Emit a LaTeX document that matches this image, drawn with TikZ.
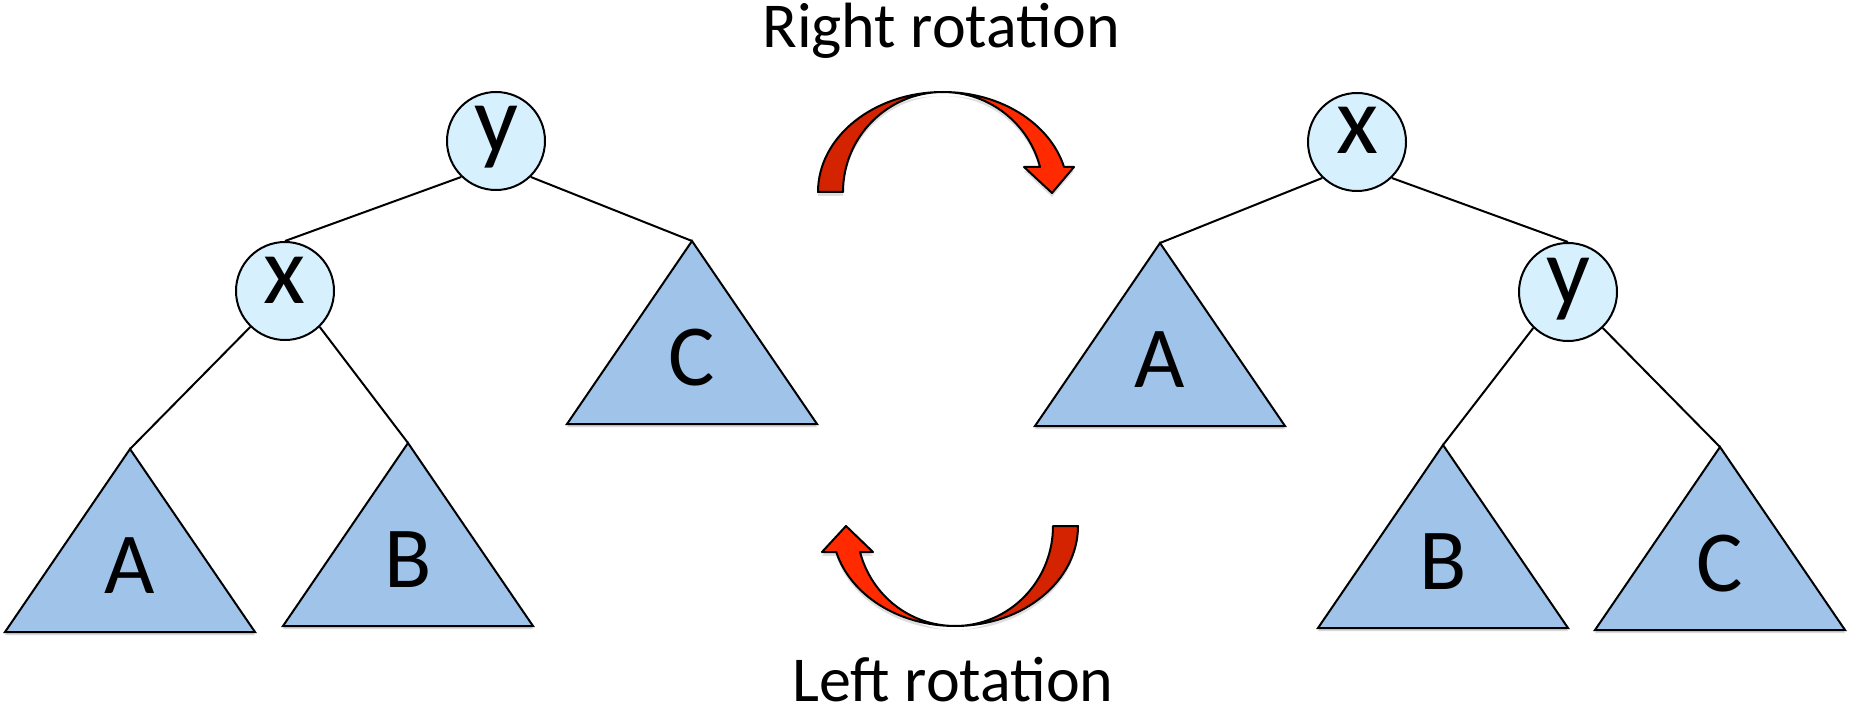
\documentclass[tikz,border=0pt]{standalone}
\usepackage{fontspec}
\setmainfont{Carlito}
\usetikzlibrary{shadows}
\definecolor{keyblue}{RGB}{214,240,253}
\definecolor{subblue}{RGB}{160,195,233}
\definecolor{rotdark}{RGB}{212,35,0}
\definecolor{rotlight}{RGB}{255,42,0}

\begin{document}
\begin{tikzpicture}[x=1pt,y=-1pt,
  key/.style={circle,draw,line width=2pt,fill=keyblue,minimum size=98pt,inner sep=0pt,
    text height=46pt,text depth=22pt,font=\fontsize{97}{97}\selectfont},
  sub/.style={draw,line width=2pt,line join=miter,fill=subblue,
    drop shadow={shadow xshift=0pt,shadow yshift=-3pt,opacity=0.3}},
  sublabel/.style={anchor=base,inner sep=0pt,font=\fontsize{87}{87}\selectfont},
  edge/.style={line width=2pt},
  rot/.style={draw,line width=2pt,line join=round,
    drop shadow={shadow xshift=0pt,shadow yshift=-4pt,opacity=0.25}},
  caption/.style={anchor=base,inner sep=0pt,font=\fontsize{64}{64}\selectfont}]
  \useasboundingbox (0,0) rectangle (1856,714);

  % before the rotation
  \node[key] (ly) at (496,141) {y};
  \node[key] (lx) at (285,291) {x};
  \coordinate (lA) at (130,449);
  \coordinate (lB) at (408,443);
  \coordinate (lC) at (692,241);
  \filldraw[sub] (lA) -- ++(125,183) -- ++(-250,0) -- cycle;
  \filldraw[sub] (lB) -- ++(125,183) -- ++(-250,0) -- cycle;
  \filldraw[sub] (lC) -- ++(125,183) -- ++(-250,0) -- cycle;
  \node[sublabel] (lAl) at (130,593) {A};
  \node[sublabel] (lBl) at (408,587) {B};
  \node[sublabel] (lCl) at (692,385) {C};
  \draw[edge] (ly.226) -- (lx.north); \draw[edge] (ly.314) -- (lC);
  \draw[edge] (lx.226) -- (lA); \draw[edge] (lx.314) -- (lB);

  % after the rotation
  \node[key] (rx) at (1357,142) {x};
  \node[key] (ry) at (1568,292) {y};
  \coordinate (rA) at (1160,243);
  \coordinate (rB) at (1443,445);
  \coordinate (rC) at (1720,447);
  \filldraw[sub] (rA) -- ++(125,183) -- ++(-250,0) -- cycle;
  \filldraw[sub] (rB) -- ++(125,183) -- ++(-250,0) -- cycle;
  \filldraw[sub] (rC) -- ++(125,183) -- ++(-250,0) -- cycle;
  \node[sublabel] (rAl) at (1160,387) {A};
  \node[sublabel] (rBl) at (1443,589) {B};
  \node[sublabel] (rCl) at (1720,591) {C};
  \draw[edge] (rx.226) -- (rA); \draw[edge] (rx.314) -- (ry.north);
  \draw[edge] (ry.226) -- (rB); \draw[edge] (ry.314) -- (rC);

  % rotation arrows
  \filldraw[rot,fill=rotdark] (818,192) arc[start angle=180,end angle=270,x radius=125,y radius=100]
    arc[start angle=270,end angle=180,radius=100] -- cycle;
  \filldraw[rot,fill=rotlight] (943,92) arc[start angle=270,end angle=345.5,x radius=125,y radius=100]
    -- (1074,167) -- (1052,193) -- (1024,167) -- (1040,167)
    arc[start angle=345.5,end angle=270,radius=100] -- cycle;
  \filldraw[rot,fill=rotdark] (1078,526) arc[start angle=0,end angle=90,x radius=123,y radius=100]
    arc[start angle=90,end angle=0,x radius=98,y radius=100] -- cycle;
  \filldraw[rot,fill=rotlight] (955,626) arc[start angle=90,end angle=164.9,x radius=123,y radius=100]
    -- (822,552) -- (846,526) -- (873,552) -- (860,552)
    arc[start angle=164.9,end angle=90,x radius=98,y radius=100] -- cycle;
  \node[caption] (rtext) at (941,48) {Right rotation};
  \node[caption] (ltext) at (953,701) {Left rotation};
\end{tikzpicture}
\end{document}
